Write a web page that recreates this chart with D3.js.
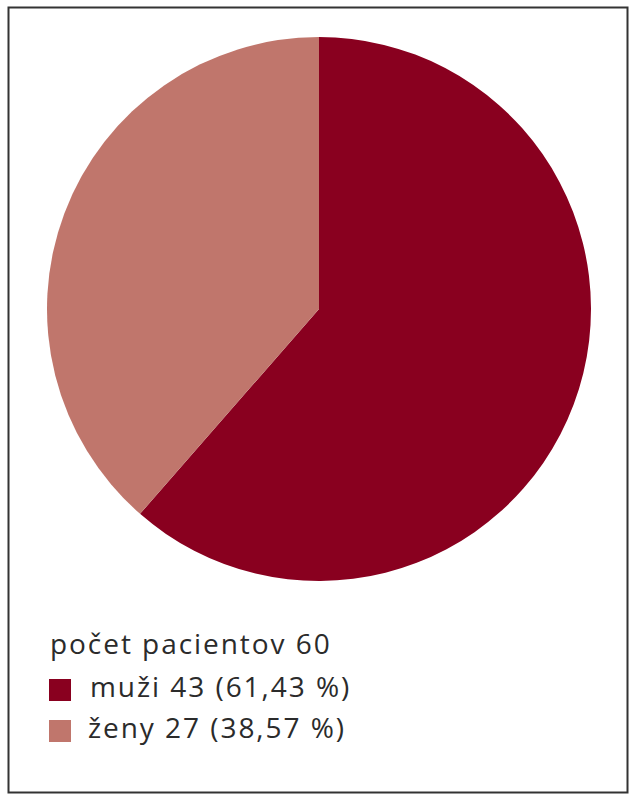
<!DOCTYPE html>
<html lang="sk">
<head>
  <meta charset="utf-8">
  <title>Počet pacientov</title>
  <script src="https://cdn.jsdelivr.net/npm/d3@7/dist/d3.min.js"></script>
  <style>
    * { margin: 0; padding: 0; }
    html, body { width: 636px; height: 800px; background: #fff; }
    svg { display: block; }
    .legend text { font-family: "Open Sans", sans-serif; font-size: 28px; letter-spacing: 1.95px; fill: #2b2b2b; }
  </style>
</head>
<body>
<svg id="chart" width="636" height="800"></svg>
<script>
  // data
  const categories = ["muži", "ženy"];
  const counts = [43, 27];
  const legendLabels = ["muži 43 (61,43 %)", "ženy 27 (38,57 %)"];
  const totalLabel = "počet pacientov 60";
  const colors = ["#89001f", "#c0766c"];

  const svg = d3.select("#chart");

  // frame
  svg.append("rect")
    .attr("x", 8.5).attr("y", 7.5)
    .attr("width", 619).attr("height", 785)
    .attr("fill", "none")
    .attr("stroke", "#333")
    .attr("stroke-width", 2);

  const cx = 319, cy = 309, r = 272;

  const pie = d3.pie().sort(null).value(d => d.v);
  const arc = d3.arc().innerRadius(0).outerRadius(r);
  const slices = pie(categories.map((c, i) => ({ c, v: counts[i] })));

  svg.append("g")
    .attr("transform", `translate(${cx},${cy})`)
    .selectAll("path")
    .data(slices)
    .join("path")
    .attr("d", arc)
    .attr("fill", (d, i) => colors[i]);

  // legend
  const lg = svg.append("g").attr("class", "legend");
  lg.append("text").attr("x", 50).attr("y", 654).text(totalLabel);

  const rows = lg.selectAll("g.row")
    .data(legendLabels)
    .join("g")
    .attr("class", "row")
    .attr("transform", (d, i) => `translate(0,${i * 41})`);

  rows.append("rect")
    .attr("x", 49).attr("y", 679)
    .attr("width", 22).attr("height", 22)
    .attr("fill", (d, i) => colors[i]);

  rows.append("text")
    .attr("x", (d, i) => i === 0 ? 90 : 88)
    .attr("y", 697)
    .text(d => d);
</script>
</body>
</html>
